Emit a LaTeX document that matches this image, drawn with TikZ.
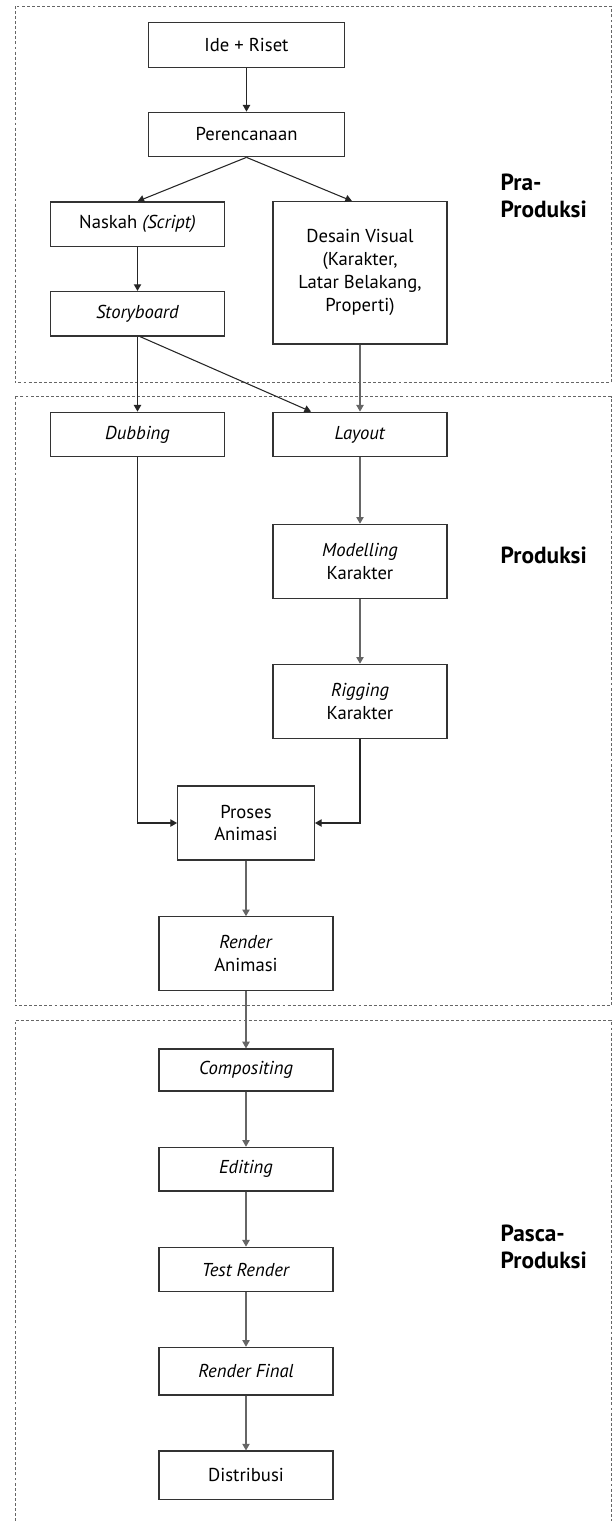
\documentclass[tikz,border=0pt]{standalone}
\usepackage{fontspec}
\setmainfont{PT Sans}
\usetikzlibrary{backgrounds}
\usetikzlibrary{arrows.meta}
\newcommand{\frameleft}{15}
\newcommand{\frameright}{611}
\newcommand{\pratop}{6}
\newcommand{\prabottom}{382.5}
\newcommand{\prodtop}{396.5}
\newcommand{\prodbottom}{1005.5}
\newcommand{\pascatop}{1020}
\newcommand{\colleft}{137.5}
\newcommand{\colmid}{246.5}
\newcommand{\colright}{360}
\newcommand{\phasex}{496}
\newcommand{\boxfont}{\fontsize{14}{17.2}\selectfont}
\newcommand{\phasefont}{\fontsize{17.5}{19.8}\selectfont\bfseries}
\tikzset{
  stage/.style={draw=black!80, line width=0.9pt, align=center, inner sep=2pt,
    minimum width=130.5pt, minimum height=33.4pt},
  widestage/.style={stage, minimum width=147.4pt},
  tallstage/.style={stage, minimum height=55.5pt},
  flow/.style={draw=black!85, line width=0.8pt, -{Triangle[length=5pt,width=5.5pt]}},
  greyflow/.style={flow, draw=black!60, fill=black!60},
  frame/.style={draw=black!60, line width=0.75pt, dash pattern=on 2.2pt off 1.6pt},
  phase/.style={anchor=west, align=left, font=\phasefont}
}

\begin{document}
\begin{tikzpicture}[x=0.75pt,y=-0.75pt,font=\boxfont]
  \useasboundingbox (0,0) rectangle (613,1521);

  % pra-produksi part
  \node[widestage] (ide) at (\colmid,45) {Ide + Riset};
  \node[widestage] (rencana) at (\colmid,134.5) {Perencanaan};
  \node[stage] (naskah) at (\colleft,224.2) {Naskah \textit{(Script)}};
  \node[stage] (storyboard) at (\colleft,313.8) {\textit{Storyboard}};
  \node[stage, minimum height=106.7pt] (desain) at (\colright,272.8)
    {Desain Visual\\(Karakter,\\Latar Belakang,\\Properti)};
  \node[phase] (pralabel) at (\phasex,196) {Pra-\\Produksi};

  % produksi part
  \node[stage] (dubbing) at (\colleft,434.5) {\textit{Dubbing}};
  \node[stage] (layout) at (\colright,434.5) {\textit{Layout}};
  \node[tallstage] (modelling) at (\colright,561.3) {\textit{Modelling}\\Karakter};
  \node[tallstage] (rigging) at (\colright,701.3) {\textit{Rigging}\\Karakter};
  \node[tallstage, minimum width=102.5pt] (proses) at (246,823) {Proses\\Animasi};
  \node[tallstage] (renderani) at (246,953.8) {\textit{Render}\\Animasi};
  \node[phase] (prodlabel) at (\phasex,555) {Produksi};

  % pasca-produksi part
  \node[stage, minimum height=31.5pt] (compositing) at (246,1070) {\textit{Compositing}};
  \node[stage, minimum height=32.8pt] (editing) at (246,1169.2) {\textit{Editing}};
  \node[stage] (testrender) at (246,1269.5) {\textit{Test Render}};
  \node[stage, minimum height=35.8pt] (renderfinal) at (246,1371.2) {\textit{Render Final}};
  \node[stage, minimum height=36.2pt] (distribusi) at (246,1475.2) {Distribusi};
  \node[phase] (pascalabel) at (\phasex,1247) {Pasca-\\Produksi};

  % arrows
  \draw[flow] (ide) -- (rencana);
  \draw[flow] (rencana.south) -- (naskah.north);
  \draw[flow] (rencana.south) -- ([xshift=-6pt]desain.north);
  \draw[flow] (naskah) -- (storyboard);
  \draw[flow] (storyboard) -- (dubbing);
  \draw[flow] ([xshift=2pt]storyboard.south) -- ([xshift=29pt]layout.north west);
  \draw[greyflow] (desain) -- (layout);
  \draw[greyflow] (layout) -- (modelling);
  \draw[greyflow] (modelling) -- (rigging);
  \draw[flow] (dubbing) |- (proses);
  \draw[flow] (rigging) |- (proses);
  \draw[greyflow] (proses) -- (renderani);
  \draw[greyflow] (renderani) -- (compositing);
  \draw[greyflow] (compositing) -- (editing);
  \draw[greyflow] (editing) -- (testrender);
  \draw[greyflow] (testrender) -- (renderfinal);
  \draw[greyflow] (renderfinal) -- (distribusi);

  \begin{scope}[on background layer]
    % phase frames
    \draw[frame] (\frameleft,\pratop) rectangle (\frameright,\prabottom);
    \draw[frame] (\frameleft,\prodtop) rectangle (\frameright,\prodbottom);
    \draw[frame] (\frameleft,1521) -- (\frameleft,\pascatop)
      -- (\frameright,\pascatop) -- (\frameright,1521);
  \end{scope}
\end{tikzpicture}
\end{document}
